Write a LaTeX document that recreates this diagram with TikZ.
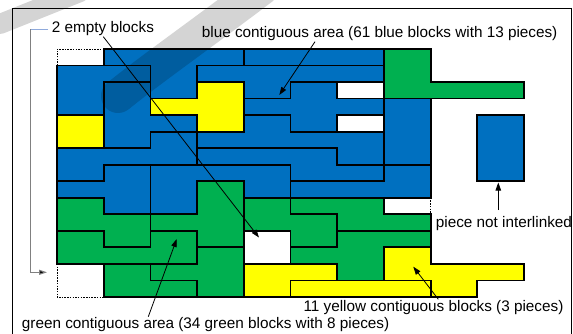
\documentclass[tikz,border=0pt]{standalone}
\usepackage{fontspec}
\setmainfont{Liberation Sans}
\usetikzlibrary{arrows.meta}
\definecolor{pblue}{RGB}{0,112,192}
\definecolor{pgreen}{RGB}{0,176,80}
\definecolor{pyellow}{RGB}{255,255,0}
\definecolor{brk}{RGB}{128,128,128}
\definecolor{brkblue}{RGB}{143,170,220}
\tikzset{
  piece/.style={draw=black, line width=1.8pt, line join=miter},
  bluep/.style={piece, fill=pblue},
  greenp/.style={piece, fill=pgreen},
  yellowp/.style={piece, fill=pyellow},
  emptyedge/.style={draw=black, line width=0.6pt, dash pattern=on 1.5pt off 1.2pt},
  lbl/.style={inner sep=0pt, anchor=base west, font=\fontsize{15.3}{18}\selectfont},
  pointer/.style={draw=black, line width=0.8pt, -{Triangle[length=8pt,width=5.5pt]}},
  swoosh/.style={draw=black, draw opacity=0.17, line cap=round},
}
\begin{document}
\begin{tikzpicture}[x=1pt,y=-1pt]
\useasboundingbox (0,0) rectangle (573,334);
\fill[white] (0,0) rectangle (573,334);
% frame
\draw[line width=0.9pt] (12,340) -- (12,8.3) -- (571,8.3) -- (571,340);

\begin{scope}[shift={(57,49)}, x=46.7pt, y=-16.533pt]
% ---- blue pieces
\path[bluep] (1,0) -- (4,0) -- (4,1) -- (3,1) -- (3,3) -- (2,3) -- (2,1) -- (1,1) -- cycle; % A
\path[bluep] (4,0) -- (7,0) -- (7,1) -- (4,1) -- cycle; % F
\path[bluep] (0,1) -- (2,1) -- (2,2) -- (1,2) -- (1,4) -- (0,4) -- cycle; % B
\path[bluep] (3,1) -- (7,1) -- (7,2) -- (5,2) -- (5,3) -- (4,3) -- (4,2) -- (3,2) -- cycle; % E
\path[bluep] (1,2) -- (2,2) -- (2,4) -- (3,4) -- (3,5) -- (2,5) -- (2,6) -- (1,6) -- cycle; % C
\path[bluep] (5,2) -- (6,2) -- (6,3) -- (7,3) -- (7,4) -- (6,4) -- (6,5) -- (5,5) -- (5,4) -- (4,4) -- (4,3) -- (5,3) -- cycle; % H
\path[bluep] (4,4) -- (5,4) -- (5,5) -- (7,5) -- (7,7) -- (6,7) -- (6,6) -- (3,6) -- (3,5) -- (4,5) -- cycle; % I
\path[bluep] (2,5) -- (3,5) -- (3,7) -- (1,7) -- (1,8) -- (0,8) -- (0,6) -- (2,6) -- cycle; % J1
\path[bluep] (3,6) -- (6,6) -- (6,7) -- (7,7) -- (7,8) -- (5,8) -- (5,7) -- (3,7) -- cycle; % J2
\path[bluep] (7,3) -- (8,3) -- (8,7) -- (7,7) -- cycle; % K1
\path[bluep] (7,7) -- (8,7) -- (8,9) -- (5,9) -- (5,8) -- (7,8) -- cycle; % K2
\path[bluep] (1,7) -- (2,7) -- (2,10) -- (1,10) -- (1,9) -- (0,9) -- (0,8) -- (1,8) -- cycle; % L
\path[bluep] (2,7) -- (5,7) -- (5,9) -- (4,9) -- (4,8) -- (3,8) -- (3,10) -- (2,10) -- cycle; % M
\path[bluep] (9,4) -- (10,4) -- (10,8) -- (9,8) -- cycle; % isolated
% ---- yellow pieces
\path[yellowp] (3,2) -- (4,2) -- (4,5) -- (3,5) -- (3,4) -- (2,4) -- (2,3) -- (3,3) -- cycle;
\path[yellowp] (0,4) -- (1,4) -- (1,6) -- (0,6) -- cycle;
\path[yellowp] (4,13) -- (6,13) -- (6,14) -- (5,14) -- (5,15) -- (4,15) -- cycle;
\path[yellowp] (5,14) -- (8,14) -- (8,15) -- (5,15) -- cycle;
\path[yellowp] (7,12) -- (8,12) -- (8,13) -- (10,13) -- (10,14) -- (9,14) -- (9,15) -- (8,15) -- (8,14) -- (7,14) -- cycle;
% ---- green pieces
\path[greenp] (7,0) -- (8,0) -- (8,2) -- (10,2) -- (10,3) -- (7,3) -- cycle;
\path[greenp] (3,8) -- (4,8) -- (4,12) -- (3,12) -- (3,11) -- (2,11) -- (2,10) -- (3,10) -- cycle; % G1
\path[greenp] (0,11) -- (1,11) -- (1,12) -- (2,12) -- (2,11) -- (3,11) -- (3,13) -- (0,13) -- cycle; % G2
\path[greenp] (0,9) -- (1,9) -- (1,10) -- (2,10) -- (2,12) -- (1,12) -- (1,11) -- (0,11) -- cycle; % G3
\path[greenp] (1,13) -- (2,13) -- (2,14) -- (3,14) -- (3,15) -- (1,15) -- cycle; % N1
\path[greenp] (3,12) -- (4,12) -- (4,15) -- (3,15) -- (3,14) -- (2,14) -- (2,13) -- (3,13) -- cycle; % N2
\path[greenp] (4,9) -- (5,9) -- (5,10) -- (6,10) -- (6,12) -- (5,12) -- (5,11) -- (4,11) -- cycle; % P1
\path[greenp] (5,9) -- (7,9) -- (7,10) -- (8,10) -- (8,11) -- (6,11) -- (6,10) -- (5,10) -- cycle; % P2
\path[greenp] (6,11) -- (8,11) -- (8,12) -- (7,12) -- (7,14) -- (6,14) -- (6,13) -- (5,13) -- (5,12) -- (6,12) -- cycle; % P3
% ---- dashed outer edges of empty cells
\draw[emptyedge] (0,1) -- (0,0) -- (1,0);
\draw[emptyedge] (8,9) -- (8,10);
\draw[emptyedge] (0,13) -- (0,15) -- (1,15);
\end{scope}

% ---- faint watermark swoosh behind the upper left
\draw[swoosh, line width=34pt] (262,-12) .. controls (200,35) and (150,70) .. (118,96);
\draw[swoosh, line width=20pt] (80,-8) -- (0,24);

% ---- labels
\node[lbl] (tEmpty) at (51.7,32.7) {2 empty blocks};
\node[lbl] (tBlue) at (201.7,37.3) {blue contiguous area (61 blue blocks with 13 pieces)};
\node[lbl] (tIso) at (435.7,227) {piece not interlinked};
\node[lbl] (tYel) at (303.3,311.5) {11 yellow contiguous blocks (3 pieces)};
\node[lbl] (tGreen) at (21.7,328.5) {green contiguous area (34 green blocks with 8 pieces)};

% ---- connectors
\coordinate (bs) at (315,41.7);   \coordinate (bt) at (279.3,95);
\coordinate (es) at (103.3,36.7); \coordinate (et) at (259,237.5);
\coordinate (is) at (498.3,210);  \coordinate (it) at (498.3,182.5);
\coordinate (ys) at (438.3,299.3);\coordinate (yt) at (413.3,266.7);
\coordinate (gs) at (148.3,316.7);\coordinate (gt) at (176.7,239);
\coordinate (k1) at (48,29.3); \coordinate (k2) at (30,29.3);
\coordinate (k3) at (30,272.3); \coordinate (k4) at (47,272.3);
\draw[pointer] (bs) -- (bt);
\draw[pointer] (es) -- (et);
\draw[pointer] (is) -- (it);
\draw[pointer] (ys) -- (yt);
\draw[pointer] (gs) -- (gt);
\draw[draw=brkblue, line width=1pt] (k1) -- (k2);
\draw[draw=brk, line width=1pt, -{Triangle[length=8pt,width=5pt,fill=black]}] (k2) -- (k3) -- (k4);
\end{tikzpicture}
\end{document}
